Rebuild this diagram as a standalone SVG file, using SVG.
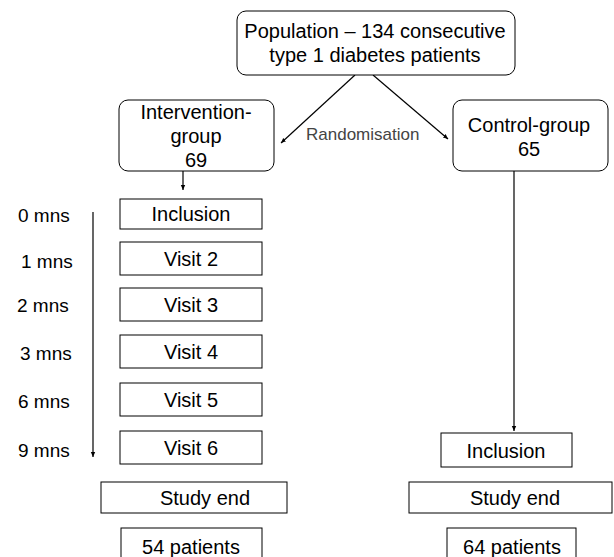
<svg xmlns="http://www.w3.org/2000/svg" width="614" height="557" viewBox="0 0 614 557">
<style>
  text { font-family: "Liberation Sans", Arial, sans-serif; font-size: 20px; fill: #000; }
  .c { text-anchor: middle; }
  .lbl { font-size: 19px; }
  .rand { font-size: 17px; fill: #444; }
  .box { fill: #fff; stroke: #000; stroke-width: 1; }
  .conn { fill: none; stroke: #000; stroke-width: 1.2; }
</style>
<defs>
  <marker id="ah" markerUnits="userSpaceOnUse" markerWidth="6" markerHeight="6" refX="5" refY="3" orient="auto">
    <path d="M0,0.8 L5,3 L0,5.2 Z" fill="#000"/>
  </marker>
</defs>
<rect width="614" height="557" fill="#fff"/>

<g id="connectors">
  <line class="conn" x1="355" y1="75" x2="281" y2="143" marker-end="url(#ah)"/>
  <line class="conn" x1="373" y1="75" x2="448" y2="139" marker-end="url(#ah)"/>
  <line class="conn" x1="183" y1="171" x2="183" y2="190" marker-end="url(#ah)"/>
  <line class="conn" x1="514" y1="171" x2="514" y2="431" marker-end="url(#ah)"/>
  <line class="conn" x1="93" y1="212" x2="93" y2="457" stroke-width="2" marker-end="url(#ah)"/>
  <text class="rand" x="306" y="140">Randomisation</text>
</g>

<g id="population">
  <rect class="box" x="237" y="11" width="278" height="64" rx="9"/>
  <text class="c" x="375" y="38">Population – 134 consecutive</text>
  <text class="c" x="375" y="62">type 1 diabetes patients</text>
</g>

<g id="intervention">
  <rect class="box" x="119" y="100" width="155" height="71" rx="9"/>
  <text class="c" x="196" y="119">Intervention-</text>
  <text class="c" x="196" y="143">group</text>
  <text class="c" x="196" y="167">69</text>
</g>

<g id="control">
  <rect class="box" x="453" y="100" width="155" height="71" rx="9"/>
  <text class="c" x="529" y="132">Control-group</text>
  <text class="c" x="529" y="156">65</text>
</g>

<g id="timeline-labels">
  <text class="lbl" x="18" y="222">0 mns</text>
  <text class="lbl" x="21" y="268">1 mns</text>
  <text class="lbl" x="17" y="312">2 mns</text>
  <text class="lbl" x="20" y="360">3 mns</text>
  <text class="lbl" x="18" y="408">6 mns</text>
  <text class="lbl" x="18" y="457">9 mns</text>
</g>

<g id="int-inclusion">
  <rect class="box" x="120" y="199" width="142" height="30"/>
  <text class="c" x="191" y="221">Inclusion</text>
</g>
<g id="visit2">
  <rect class="box" x="120" y="242" width="142" height="33"/>
  <text class="c" x="191" y="266">Visit 2</text>
</g>
<g id="visit3">
  <rect class="box" x="120" y="288" width="142" height="33"/>
  <text class="c" x="191" y="312">Visit 3</text>
</g>
<g id="visit4">
  <rect class="box" x="120" y="335" width="142" height="33"/>
  <text class="c" x="191" y="359">Visit 4</text>
</g>
<g id="visit5">
  <rect class="box" x="120" y="383" width="142" height="33"/>
  <text class="c" x="191" y="407">Visit 5</text>
</g>
<g id="visit6">
  <rect class="box" x="120" y="431" width="142" height="33"/>
  <text class="c" x="191" y="455">Visit 6</text>
</g>

<g id="int-studyend">
  <rect class="box" x="101" y="482" width="186" height="31"/>
  <text class="c" x="205" y="505">Study end</text>
</g>
<g id="int-patients">
  <rect class="box" x="121" y="528" width="141" height="35"/>
  <text class="c" x="191" y="554">54 patients</text>
</g>

<g id="ctl-inclusion">
  <rect class="box" x="441" y="433" width="131" height="34"/>
  <text class="c" x="506" y="458">Inclusion</text>
</g>
<g id="ctl-studyend">
  <rect class="box" x="409" y="482" width="203" height="31"/>
  <text class="c" x="515" y="505">Study end</text>
</g>
<g id="ctl-patients">
  <rect class="box" x="447" y="528" width="129" height="35"/>
  <text class="c" x="512" y="554">64 patients</text>
</g>
</svg>
